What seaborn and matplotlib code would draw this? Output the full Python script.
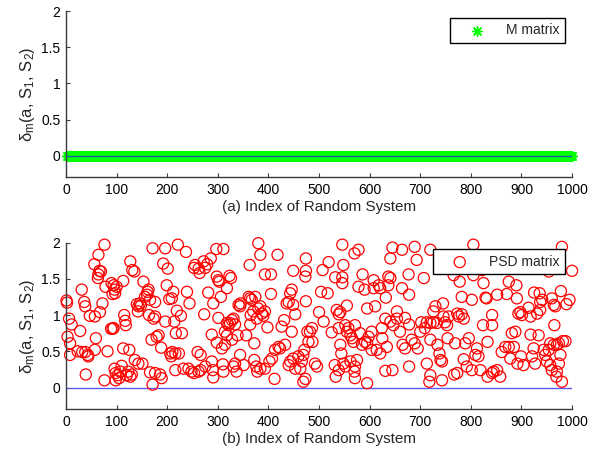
import numpy as np
import pandas as pd
import matplotlib
matplotlib.use("Agg")
import matplotlib.pyplot as plt
import seaborn as sns

# ---- data ----
n_systems = 1000
m_index = np.arange(1, n_systems + 1)
m_delta = np.zeros(n_systems)          # M matrix: every system gives 0

# PSD matrix: visible points (values above 2 are clipped by the axis)
psd_index = [
    1, 2, 3, 8, 8, 6, 11, 23, 28, 31, 36, 38, 32, 38, 43, 44, 39, 47, 56, 57,
    59, 57, 63, 64, 66, 69, 64, 76, 67, 72, 76, 78, 82, 89, 92, 94, 90, 94, 96, 92,
    97, 100, 96, 98, 98, 102, 105, 107, 110, 113, 113, 115, 117, 118, 120, 123, 127, 130, 125, 127,
    131, 135, 136, 140, 143, 142, 146, 148, 143, 151, 153, 156, 160, 161, 163, 164, 173, 176, 166, 176,
    169, 166, 171, 176, 171, 179, 183, 186, 189, 188, 196, 192, 201, 196, 199, 204, 209, 208, 206, 210,
    216, 212, 214, 216, 217, 219, 221, 223, 227, 229, 232,
    237, 239, 244, 255, 253, 262, 264, 272, 275, 279, 286, 260, 266, 242, 248, 253, 262, 266, 275, 288,
    290, 291, 273, 281, 288, 291, 297, 311, 298, 301, 303, 301, 298, 306, 308, 314, 310, 311, 318, 323,
    326, 318, 321, 324, 328, 331, 334, 314, 318, 328, 331, 334, 337, 339, 341, 344, 345, 344, 351, 356,
    361, 364, 367, 374, 363, 364, 365, 370, 377, 380, 384, 387, 390, 393, 372, 372, 376, 378, 384, 393,
    380, 384, 393, 405, 398, 402, 407, 405, 412, 413, 420, 423, 433, 418, 426, 431, 436, 440, 443, 446,
    449, 443, 440, 449, 453, 459, 463, 466, 469, 471, 446, 449, 453, 469, 473, 474, 474, 473, 474, 477,
    479,
    482, 486, 487, 492, 496, 500, 509, 504, 517, 507, 519, 525, 532, 546, 546, 548, 535, 539, 542, 555,
    531, 533, 539, 548, 552, 562, 542, 544, 546, 539, 552, 555, 558, 562, 565, 568, 570, 578, 571, 575,
    571, 570, 571, 578, 586, 581, 585, 591, 595, 598, 595, 590, 595, 608, 611, 608, 604, 604, 614, 621,
    618, 621, 637, 641, 637, 624, 625, 631, 634, 631, 645, 632, 641, 647, 654, 654, 641, 645, 664, 660,
    665, 670, 664, 670, 678, 677, 678, 678, 683, 689, 695, 700, 702, 689, 693, 707, 709, 713, 720, 726,
    713, 720, 718, 720, 720, 726,
    730, 733, 734, 738, 740, 743, 743, 745, 746, 749, 753, 756, 754, 766, 769, 773, 776, 782, 786, 778,
    782, 789, 796, 786, 792, 767, 773, 802, 805, 805, 812, 815, 819, 802, 809, 822, 825, 824, 829, 831,
    833, 833, 842, 842, 842, 845, 852, 858, 852, 871, 861, 868, 875, 878, 881, 885, 888, 875, 890, 891,
    892, 899, 894, 898, 901, 914, 918, 931, 904, 918, 934, 921, 924, 927, 925, 936, 937, 941, 937, 944,
    947, 950, 954, 957, 960, 954, 957, 964, 970, 974, 960, 964, 967, 965, 970, 974, 977, 980, 969, 978,
    980, 982, 987, 989, 995, 1000,
]
psd_delta = [
    1.20, 1.17, 0.70, 0.61, 0.45, 0.95, 0.87, 0.50, 0.78, 1.35, 1.18, 1.12, 0.49, 0.49, 0.45, 0.43, 0.18, 0.99, 1.70, 0.98,
    0.68, 0.52, 1.51, 1.56, 1.61, 1.60, 1.83, 1.97, 1.04, 1.16, 0.10, 1.39, 0.50, 0.81, 0.81, 0.82, 1.44, 1.41, 1.35, 1.29,
    1.30, 1.39, 0.26, 0.20, 0.10, 0.17, 0.13, 0.22, 0.30, 1.47, 0.54, 1.00, 0.92, 0.86, 0.17, 0.22, 0.15, 0.18, 0.52, 1.74,
    1.62, 1.60, 0.38, 1.15, 1.12, 1.05, 1.16, 1.13, 0.33, 0.33, 1.46, 1.25, 1.28, 1.32, 1.35, 1.00, 0.95, 0.98, 1.21, 1.18,
    0.66, 0.21, 0.04, 0.20, 1.92, 0.70, 0.72, 0.18, 0.13, 0.55, 1.92, 1.71, 1.64, 0.91, 1.41, 1.22, 1.23, 0.43, 0.47, 0.49,
    0.47, 1.32, 0.91, 0.24, 0.75, 1.06, 1.97, 0.47, 0.99, 0.75, 0.26,
    1.87, 1.32, 1.16, 1.69, 1.65, 1.64, 1.58, 1.74, 1.65, 1.70, 1.78, 0.49, 0.45, 0.26, 0.22, 0.20, 0.22, 0.24, 0.29, 0.36,
    0.24, 0.14, 1.01, 1.31, 0.73, 1.16, 1.91, 1.91, 1.53, 1.48, 1.46, 0.96, 0.62, 1.25, 0.54, 0.59, 0.32, 0.22, 1.37, 1.54,
    1.51, 0.89, 0.86, 0.89, 0.93, 0.95, 0.87, 0.77, 0.72, 0.66, 0.29, 0.33, 0.22, 0.72, 1.14, 1.12, 1.16, 0.45, 0.31, 0.72,
    1.25, 1.23, 1.21, 1.25, 1.69, 0.87, 1.00, 1.05, 0.95, 1.09, 1.12, 1.02, 0.99, 1.05, 0.61, 0.38, 0.29, 0.22, 0.26, 0.26,
    1.99, 1.83, 1.56, 1.56, 0.83, 0.36, 0.40, 1.29, 0.12, 0.52, 0.56, 0.54, 0.59, 1.83, 0.84, 0.93, 1.16, 1.18, 1.30, 1.35,
    1.14, 0.36, 0.31, 0.40, 0.26, 0.43, 0.26, 0.36, 0.45, 0.52, 0.77, 1.61, 1.01, 0.08, 0.12, 1.78, 1.61, 1.53, 1.19, 0.77,
    0.63,
    0.77, 0.82, 0.63, 0.33, 0.29, 1.04, 0.91, 1.32, 1.30, 1.62, 1.73, 0.76, 1.52, 1.52, 1.44, 1.69, 1.07, 1.01, 1.04, 1.13,
    0.31, 0.15, 0.24, 0.33, 0.29, 0.36, 0.59, 0.47, 1.97, 0.82, 0.86, 0.77, 0.82, 0.72, 0.68, 0.63, 1.85, 1.90, 0.86, 0.38,
    0.29, 0.22, 0.13, 1.39, 1.56, 0.75, 0.59, 0.63, 0.61, 0.70, 0.06, 1.35, 1.09, 1.48, 1.12, 1.37, 0.77, 0.52, 0.52, 0.47,
    1.41, 1.37, 1.41, 1.51, 1.53, 0.82, 0.68, 0.95, 0.56, 0.23, 0.24, 1.24, 0.91, 0.86, 1.05, 0.95, 1.78, 1.93, 1.90, 0.77,
    0.59, 0.54, 1.37, 0.96, 0.87, 1.56, 1.28, 0.29, 0.66, 0.61, 0.54, 0.77, 0.90, 1.94, 1.76, 1.51, 0.82, 0.90, 0.89, 0.90,
    0.33, 0.17, 0.08, 1.90, 0.66, 1.05,
    1.12, 0.89, 0.59, 0.47, 0.38, 0.36, 0.10, 1.16, 0.98, 0.90, 0.86, 0.98, 0.68, 1.55, 0.61, 1.02, 0.98, 1.01, 0.95, 1.46,
    1.25, 0.61, 0.68, 0.39, 0.29, 0.18, 0.20, 1.21, 1.97, 1.55, 0.54, 0.43, 0.24, 0.24, 0.45, 1.62, 1.44, 0.86, 1.24, 1.23,
    0.63, 0.15, 1.00, 0.86, 0.20, 0.22, 0.24, 0.15, 1.28, 1.29, 0.49, 0.56, 0.56, 0.40, 0.75, 0.56, 0.77, 1.46, 1.41, 1.23,
    0.33, 0.43, 1.02, 1.04, 1.00, 1.10, 0.98, 1.02, 0.31, 0.73, 0.72, 0.43, 0.54, 0.33, 1.31, 1.30, 1.18, 1.21, 1.07, 0.52,
    0.45, 0.36, 0.52, 0.31, 0.24, 1.60, 0.61, 0.59, 0.59, 0.61, 1.23, 1.14, 1.12, 0.86, 0.22, 0.33, 0.45, 0.08, 0.15, 1.33,
    1.94, 0.64, 0.64, 1.15, 1.21, 1.61,
]

x_ticks = list(range(0, 1001, 100))
y_ticks = [0, 0.5, 1, 1.5, 2]
y_ticklabels = ["0", "0.5", "1", "1.5", "2"]
y_label = r"$\delta_m$(a, S$_1$, S$_2$)"
x_labels = ["(a) Index of Random System", "(b) Index of Random System"]

m_df = pd.DataFrame({"index": m_index, "delta": m_delta})
psd_df = pd.DataFrame({"index": psd_index, "delta": psd_delta})

# ---- style ----
sns.set_style("ticks")
plt.rcParams["font.family"] = ["Liberation Sans", "DejaVu Sans"]
plt.rcParams["mathtext.fontset"] = "custom"
plt.rcParams["mathtext.rm"] = "Liberation Sans"
plt.rcParams["mathtext.it"] = "Liberation Sans"
plt.rcParams["font.size"] = 10
plt.rcParams["xtick.direction"] = "in"
plt.rcParams["ytick.direction"] = "in"

axis_color = "#3a3a3a"

fig = plt.figure(figsize=(5.97, 4.49), dpi=100)
ax_top = fig.add_axes([0.1106, 0.6049, 0.8476, 0.3706])
ax_bot = fig.add_axes([0.1106, 0.0884, 0.8476, 0.3715])

# top panel: M matrix
sns.scatterplot(data=m_df, x="index", y="delta", ax=ax_top, marker=(8, 2, 0),
                color="#00ff00", edgecolor="#00ff00", s=50, linewidth=1.0,
                label="M matrix", zorder=2)
ax_top.collections[-1].set_clip_on(False)
ax_top.axhline(0, color="#1d5aa8", lw=1.0, zorder=3)

# bottom panel: PSD matrix
ax_bot.axhline(0, color="#5a5af0", lw=1.0, zorder=1)
sns.scatterplot(data=psd_df, x="index", y="delta", ax=ax_bot, marker="o",
                facecolor="none", edgecolor="red", s=64, linewidth=0.9,
                label="PSD matrix", zorder=2)
ax_bot.collections[-1].set_clip_on(False)

for ax, xl in zip([ax_top, ax_bot], x_labels):
    ax.set_xlim(0, 1000)
    ax.set_ylim(-0.3, 2)
    ax.set_xticks(x_ticks)
    ax.set_yticks(y_ticks)
    ax.set_yticklabels(y_ticklabels)
    ax.set_xlabel(xl, fontsize=11, labelpad=2)
    ax.set_ylabel(y_label, fontsize=12, labelpad=3)
    sns.despine(ax=ax)
    for side in ["left", "bottom"]:
        ax.spines[side].set_color(axis_color)
        ax.spines[side].set_linewidth(1.0)
    ax.tick_params(colors="black", length=3, width=0.8, labelsize=10, pad=4)
    ax.tick_params(axis="both", color=axis_color)
    leg = ax.legend(loc="upper right", bbox_to_anchor=(0.986, 0.96),
                    frameon=True, fancybox=False, framealpha=1, fontsize=10,
                    handlelength=3.0, handletextpad=0.6, borderpad=0.4,
                    borderaxespad=0)
    leg.get_frame().set_edgecolor("black")
    leg.get_frame().set_linewidth(1.0)
    leg.set_zorder(5)

fig.savefig("out.png", dpi=100)
